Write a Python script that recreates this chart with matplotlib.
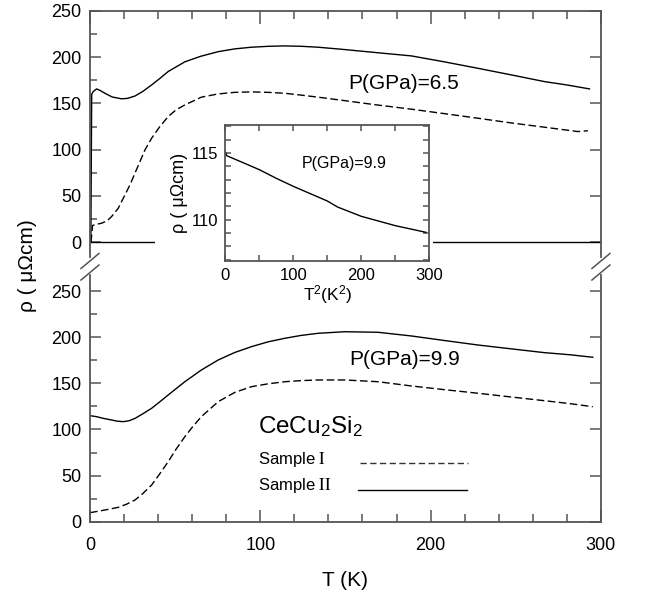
import matplotlib
matplotlib.use("Agg")
import matplotlib.pyplot as plt
from matplotlib.patches import Rectangle
from matplotlib.ticker import MultipleLocator

plt.rcParams['font.family'] = ['Liberation Sans', 'DejaVu Sans']
plt.rcParams['mathtext.fontset'] = 'stix'

# P = 6.5 GPa, sample II (solid)
t_65_s2 = [0.5, 1.0, 2.0, 3.9, 6.0, 8.8, 13, 18.6, 22, 26.4, 31, 36.2, 41, 45.9,
           55.7, 65, 75.3, 85, 94.8, 105, 114.4, 124, 133.9, 147.6, 168, 188.7,
           208, 227.8, 247, 266.9, 280, 293.3]
rho_65_s2 = [0, 160, 163, 165.7, 164, 161, 157, 155, 155.5, 158, 163, 170, 177, 184.5,
             195, 201, 206, 209, 210.8, 211.8, 212.2, 211.8, 210.8, 208.6, 205, 201.4,
             195, 188, 181, 173.6, 170, 165.7]

# P = 6.5 GPa, sample I (dashed)
t_65_s1 = [0.6, 1.5, 3, 6.8, 10, 12.7, 16.6, 20.5, 23.5, 26.4, 32.3, 36.2, 41, 45.9,
           50.5, 55.7, 65.4, 75.3, 85, 94.8, 104.5, 114.4, 124, 133.9, 149.6, 168,
           188.7, 208, 227.8, 247, 266.9, 286.4, 292.3]
rho_65_s1 = [0, 18, 19, 20.5, 23, 27.7, 36.7, 51, 62, 74.6, 99.8, 112.4, 125, 135.8,
             143, 148.4, 156.8, 160.3, 162, 162.5, 162, 161, 159, 156.8, 153, 148.5,
             143.8, 139, 134, 129, 124.3, 119.6, 120.5]

# P = 9.9 GPa, sample II (solid)
t_99_s2 = [0, 3.9, 8, 12.7, 16, 19.6, 23, 26.4, 31, 36.2, 41, 45.9, 55.7, 65.4, 75.3,
           85, 94.8, 104.5, 114.4, 124, 133.9, 149.6, 169.1, 188.7, 208, 227.8, 247,
           266.9, 282, 295.2]
rho_99_s2 = [115, 113.9, 112, 110.3, 109, 108.5, 109.5, 112, 117, 123, 130, 137.4, 151.8,
             164.5, 175.4, 183.5, 189.8, 195, 198.9, 202, 204.3, 206, 205.4, 201.4,
             196.5, 191.6, 187.5, 183.3, 181, 178.3]

# P = 9.9 GPa, sample I (dashed)
t_99_s1 = [0, 8.8, 16.6, 21.5, 26.4, 31, 36.2, 41, 45.9, 50.5, 55.7, 60.5, 65.4, 75.3,
           85.1, 94.8, 104.5, 114.4, 124, 133.9, 149.6, 169.1, 188.7, 208, 227.8, 247,
           266.9, 282, 295.2]
rho_99_s1 = [9.8, 12.7, 15.6, 19, 23.5, 30.5, 39.8, 52, 65, 78.5, 92.2, 103.5, 113.9,
             130.2, 140.3, 146.4, 149.5, 151.8, 153, 153.7, 153.7, 151.8, 147.2, 143.2,
             139.3, 135.3, 131.2, 128, 124.7]

# inset: rho vs T^2 at 9.9 GPa
t2_inset = [0, 2, 25, 50, 75, 100, 125, 150, 165, 200, 250, 295]
rho_inset = [115.1, 114.8, 114.3, 113.75, 113.1, 112.5, 111.95, 111.4, 110.95,
             110.25, 109.55, 109.05]

SPINE = '#555555'
DASH = (5.5, 2.5)

fig = plt.figure(figsize=(6.45, 5.99), dpi=100)
ax_top = fig.add_axes([0.1395, 0.571, 0.7922, 0.4107], zorder=0)
ax_bot = fig.add_axes([0.1395, 0.129, 0.7922, 0.4119], zorder=0)


def style(ax, size=13):
    for s in ax.spines.values():
        s.set_color(SPINE)
        s.set_linewidth(1.3)
    ax.tick_params(which='both', direction='in', color=SPINE, width=1.1,
                   labelsize=size)


for ax in (ax_top, ax_bot):
    style(ax)
    ax.set_xlim(0, 300)
    ax.xaxis.set_major_locator(MultipleLocator(100))
    ax.xaxis.set_minor_locator(MultipleLocator(20))
    ax.yaxis.set_major_locator(MultipleLocator(50))
    ax.yaxis.set_minor_locator(MultipleLocator(25))
    ax.tick_params(axis='x', which='major', length=9)
    ax.tick_params(axis='x', which='minor', length=5.5)
    ax.tick_params(axis='y', which='major', length=8, left=True, right=True, pad=6)
    ax.tick_params(axis='y', which='minor', length=5, left=True, right=False)

# top panel (6.5 GPa)
ax_top.set_ylim(-16, 250)
ax_top.spines['bottom'].set_visible(False)
ax_top.tick_params(axis='x', which='both', bottom=False, top=True,
                   labelbottom=False, labeltop=False)
ax_top.axhline(0, color='k', lw=1.0)
ax_top.plot(t_65_s2, rho_65_s2, color='k', lw=1.0)
ax_top.plot(t_65_s1, rho_65_s1, color='k', lw=1.0, dashes=DASH)
ax_top.text(0.5055, 0.683, 'P(GPa)=6.5', transform=ax_top.transAxes,
            fontsize=15, va='baseline')

# bottom panel (9.9 GPa)
ax_bot.set_ylim(0, 267.5)
ax_bot.spines['top'].set_visible(False)
ax_bot.tick_params(axis='x', which='both', top=False, bottom=True, pad=11)
ax_bot.plot(t_99_s2, rho_99_s2, color='k', lw=1.0)
ax_bot.plot(t_99_s1, rho_99_s1, color='k', lw=1.0, dashes=DASH)
ax_bot.text(0.507, 0.635, 'P(GPa)=9.9', transform=ax_bot.transAxes,
            fontsize=15, va='baseline')
ax_bot.set_xlabel('T (K)', fontsize=15, labelpad=12)

# key
ax_bot.text(0.3294, 0.358, r'CeCu$\mathregular{_2}$Si$\mathregular{_2}$',
            transform=ax_bot.transAxes, fontsize=17.5, va='baseline')
ax_bot.text(0.3294, 0.234, r'Sample $\mathrm{I}$', transform=ax_bot.transAxes,
            fontsize=12, va='baseline')
ax_bot.text(0.3294, 0.1285, r'Sample $\mathrm{II}$', transform=ax_bot.transAxes,
            fontsize=12, va='baseline')
ax_bot.plot([0.528, 0.740], [0.239, 0.239], transform=ax_bot.transAxes,
            color='#333333', lw=1.0, dashes=(4.5, 2.5))
ax_bot.plot([0.524, 0.738], [0.1285, 0.1285], transform=ax_bot.transAxes,
            color='k', lw=1.0)

# axis-break marks
dx, dy = 0.0176, 0.0305
kw = dict(color=SPINE, lw=1.1, clip_on=False)
for x0 in (0, 1):
    ax_top.plot([x0 - dx, x0 + dx], [-0.0163 - dy, -0.0163 + dy],
                transform=ax_top.transAxes, **kw)
    ax_bot.plot([x0 - dx, x0 + dx], [1.0101 - dy, 1.0101 + dy],
                transform=ax_bot.transAxes, **kw)

fig.text(0.043, 0.556, r'ρ ( μΩcm)', rotation=90, fontsize=15,
         ha='center', va='center')

# white backing behind the inset and its labels
fig.add_artist(Rectangle((0.2403, 0.499), 0.431, 0.266, transform=fig.transFigure,
                         facecolor='white', edgecolor='none', zorder=1))

# inset
ins = fig.add_axes([0.3493, 0.5643, 0.3163, 0.227], zorder=2)
style(ins, size=12)
ins.plot(t2_inset, rho_inset, color='k', lw=1.0)
ins.set_xlim(0, 300)
ins.set_ylim(106.9, 117.1)
ins.xaxis.set_major_locator(MultipleLocator(100))
ins.xaxis.set_minor_locator(MultipleLocator(50))
ins.yaxis.set_major_locator(MultipleLocator(5))
ins.yaxis.set_minor_locator(MultipleLocator(1))
ins.tick_params(which='both', top=True, right=True, length=4.5)
ins.tick_params(axis='x', pad=5)
ins.tick_params(axis='y', pad=5)
ins.set_xlabel(r'T$\mathregular{^2}$(K$\mathregular{^2}$)', fontsize=12.5, labelpad=0)
ins.set_ylabel(r'ρ ( μΩcm)', fontsize=13, labelpad=3)
ins.text(0.3745, 0.684, 'P(GPa)=9.9', transform=ins.transAxes,
         fontsize=11.5, va='baseline')

fig.savefig('out.png', dpi=100)
